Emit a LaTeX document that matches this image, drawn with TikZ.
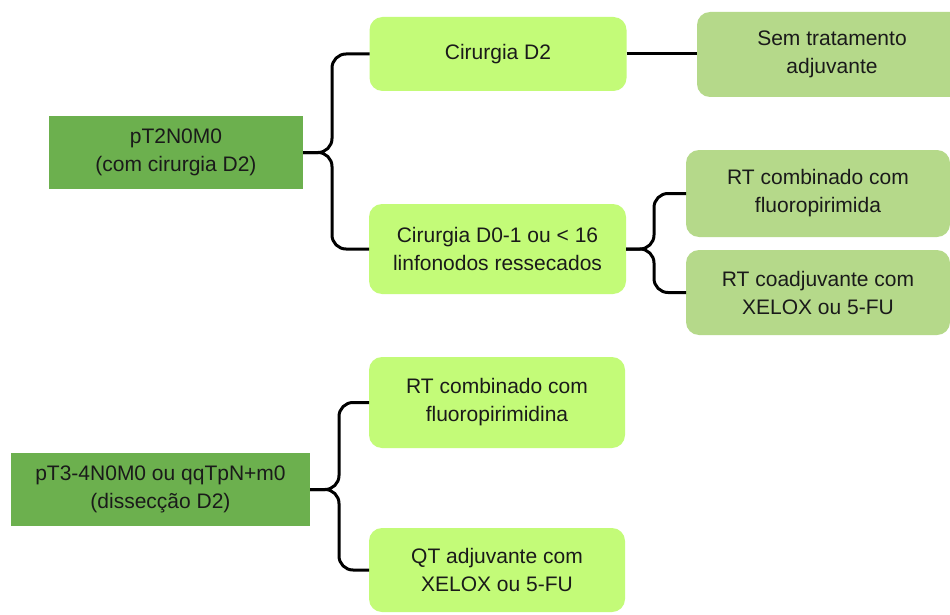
\documentclass[tikz,border=0pt]{standalone}
\usepackage{fontspec}
\setmainfont{Liberation Sans}
\begin{document}
\definecolor{stagegreen}{HTML}{6CB04E}
\definecolor{limegreen}{HTML}{C3FB78}
\definecolor{sagegreen}{HTML}{B5D98A}
\definecolor{inktext}{HTML}{1A1A1A}
\begin{tikzpicture}[x=1pt,y=-1pt,
  every node/.style={inner sep=0pt,outer sep=0pt,align=center,text=inktext,
    font=\fontsize{21}{28}\selectfont},
  stagebox/.style={fill=stagegreen,minimum height=#1},
  choicebox/.style={fill=limegreen,rounded corners=13pt,minimum width=257pt},
  therapybox/.style={fill=sagegreen,rounded corners=13pt},
  brace/.style={draw=black,line width=3pt,rounded corners=14pt}]
\useasboundingbox (0,0) rectangle (950,615);
\clip (0,0) rectangle (950,615);
\fill[white] (0,0) rectangle (950,615);

% upper tree: pT2N0M0
\node[stagebox=72pt,minimum width=254pt] (a) at (176,152.5) {pT2N0M0\\(com cirurgia D2)};
\node[choicebox,minimum height=74pt] (d2) at (498,54) {Cirurgia D2};
\node[choicebox,minimum height=90pt] (d01) at (497.5,249) {Cirurgia D0-1 ou < 16\\linfonodos ressecados};
\node[therapybox,minimum width=270pt,minimum height=85pt] (sem) at (832,54.5) {Sem tratamento\\adjuvante};
\node[therapybox,minimum width=264pt,minimum height=87pt] (rtc) at (818,193.5) {RT combinado com\\fluoropirimida};
\node[therapybox,minimum width=264pt,minimum height=85pt] (rtx) at (818,292.5) {RT coadjuvante com\\XELOX ou 5-FU};

% lower tree: pT3-4N0M0
\node[stagebox=73pt,minimum width=299pt] (b) at (160.5,489.5) {pT3-4N0M0 ou qqTpN+m0\\(dissecção D2)};
\node[choicebox,minimum width=256pt,minimum height=91pt] (rtf) at (497,402.5) {RT combinado com\\fluoropirimidina};
\node[choicebox,minimum width=256pt,minimum height=84pt] (qt) at (497,570) {QT adjuvante com\\XELOX ou 5-FU};

% brace junctions
\coordinate (ja) at (332,152.5);
\coordinate (jd) at (654,249);
\coordinate (jb) at (339,489.5);

% connectors
\draw[brace] (d2.west) -| (ja) -- (a.east);
\draw[brace] (d01.west) -| (ja) -- (a.east);
\draw[line width=3pt] (d2.east) -- (sem.west |- d2.east);
\draw[brace] (rtc.west) -| (jd) -- (d01.east);
\draw[brace] (rtx.west) -| (jd) -- (d01.east);
\draw[brace] (rtf.west) -| (jb) -- (b.east);
\draw[brace] (qt.west) -| (jb) -- (b.east);
\end{tikzpicture}
\end{document}
